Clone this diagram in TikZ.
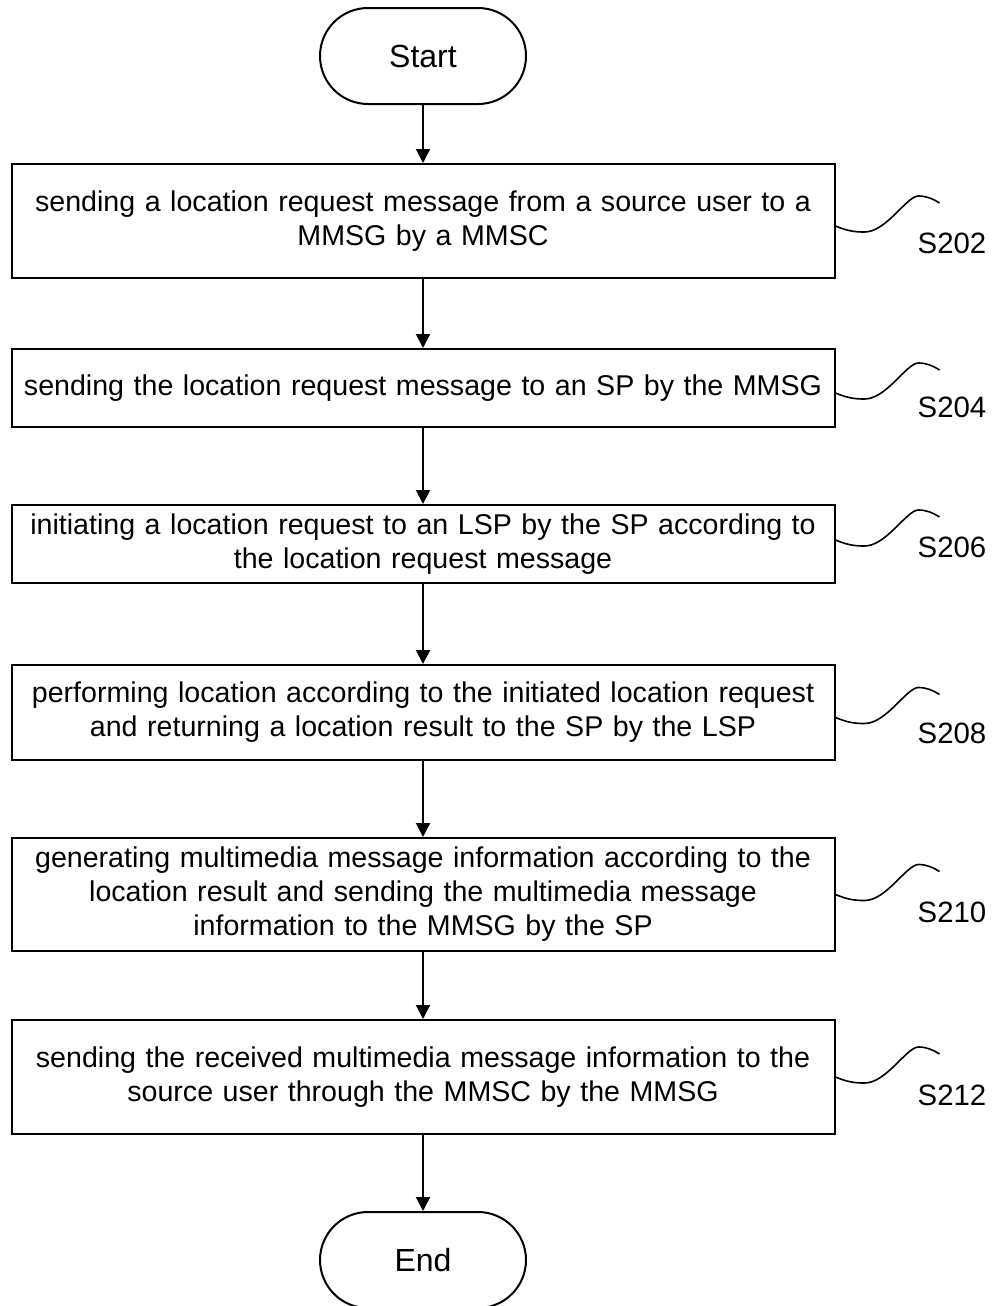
\documentclass[tikz,border=0pt]{standalone}
\usepackage{fontspec}
\setmainfont{Liberation Sans}
\usetikzlibrary{arrows.meta}

\begin{document}
\begin{tikzpicture}[
    x=0.5pt, y=-0.5pt,
    font=\fontsize{14.3}{17}\selectfont,
    terminal/.style={rectangle, rounded corners=24pt, draw, line width=1pt, minimum width=103pt, minimum height=48pt, font=\fontsize{16}{16}\selectfont},
    stepbox/.style={rectangle, draw, line width=1pt, minimum width=411.5pt, text width=408pt, align=center, inner sep=0pt},
    steptag/.style={font=\fontsize{14.7}{14.7}\selectfont},
    flow/.style={line width=1pt, -{Triangle[length=7pt,width=7pt]}},
    lead/.style={line width=0.8pt}
    ]
    \useasboundingbox (0,0) rectangle (991,1306);

    \node (start) [terminal] at (423,56) {Start};

    \node (b1) [stepbox, minimum height=57pt] at (423,221)
      {sending a location request message from a source user to a\\ MMSG by a MMSC};
    \node (b2) [stepbox, minimum height=39pt] at (423,388)
      {sending the location request message to an SP by the MMSG};
    \node (b3) [stepbox, minimum height=39pt] at (423,544)
      {initiating a location request to an LSP by the SP according to\\ the location request message};
    \node (b4) [stepbox, minimum height=47.5pt] at (423,712.5)
      {performing location according to the initiated location request\\ and returning a location result to the SP by the LSP};
    \node (b5) [stepbox, minimum height=56.5pt] at (423,894.5)
      {generating multimedia message information according to the\\ location result and sending the multimedia message\\ information to the MMSG by the SP};
    \node (b6) [stepbox, minimum height=57pt] at (423,1077)
      {sending the received multimedia message information to the\\ source user through the MMSC by the MMSG};

    \node (end) [terminal] at (423,1260) {End};

    % step numbers
    \node (s202) [steptag] at (952,243) {S202};
    \node (s204) [steptag] at (952,407) {S204};
    \node (s206) [steptag] at (952,547) {S206};
    \node (s208) [steptag] at (952,733) {S208};
    \node (s210) [steptag] at (952,912) {S210};
    \node (s212) [steptag] at (952,1095) {S212};

    \draw [flow] (start) -- (b1);
    \draw [flow] (b1) -- (b2);
    \draw [flow] (b2) -- (b3);
    \draw [flow] (b3) -- (b4);
    \draw [flow] (b4) -- (b5);
    \draw [flow] (b5) -- (b6);
    \draw [flow] (b6) -- (end);

    % leaders to the step numbers
    \draw [lead] ([yshift=-2.5pt]b1.east) .. controls +(12,5) and +(-10,0) .. ++(29,6)
      .. controls +(22,0) and +(-12,0) .. ++(54,-36) .. controls +(8,0) and +(-6,-4) .. ++(21,7);
    \draw [lead] ([yshift=-2.5pt]b2.east) .. controls +(12,5) and +(-10,0) .. ++(29,6)
      .. controls +(22,0) and +(-12,0) .. ++(54,-36) .. controls +(8,0) and +(-6,-4) .. ++(21,7);
    \draw [lead] ([yshift=2pt]b3.east) .. controls +(12,5) and +(-10,0) .. ++(29,6)
      .. controls +(22,0) and +(-12,0) .. ++(54,-36) .. controls +(8,0) and +(-6,-4) .. ++(21,7);
    \draw [lead] ([yshift=-2.5pt]b4.east) .. controls +(12,5) and +(-10,0) .. ++(29,6)
      .. controls +(22,0) and +(-12,0) .. ++(54,-36) .. controls +(8,0) and +(-6,-4) .. ++(21,7);
    \draw [lead] (b5.east) .. controls +(12,5) and +(-10,0) .. ++(29,6)
      .. controls +(22,0) and +(-12,0) .. ++(54,-36) .. controls +(8,0) and +(-6,-4) .. ++(21,7);
    \draw [lead] (b6.east) .. controls +(12,5) and +(-10,0) .. ++(29,6)
      .. controls +(22,0) and +(-12,0) .. ++(54,-36) .. controls +(8,0) and +(-6,-4) .. ++(21,7);
\end{tikzpicture}
\end{document}
